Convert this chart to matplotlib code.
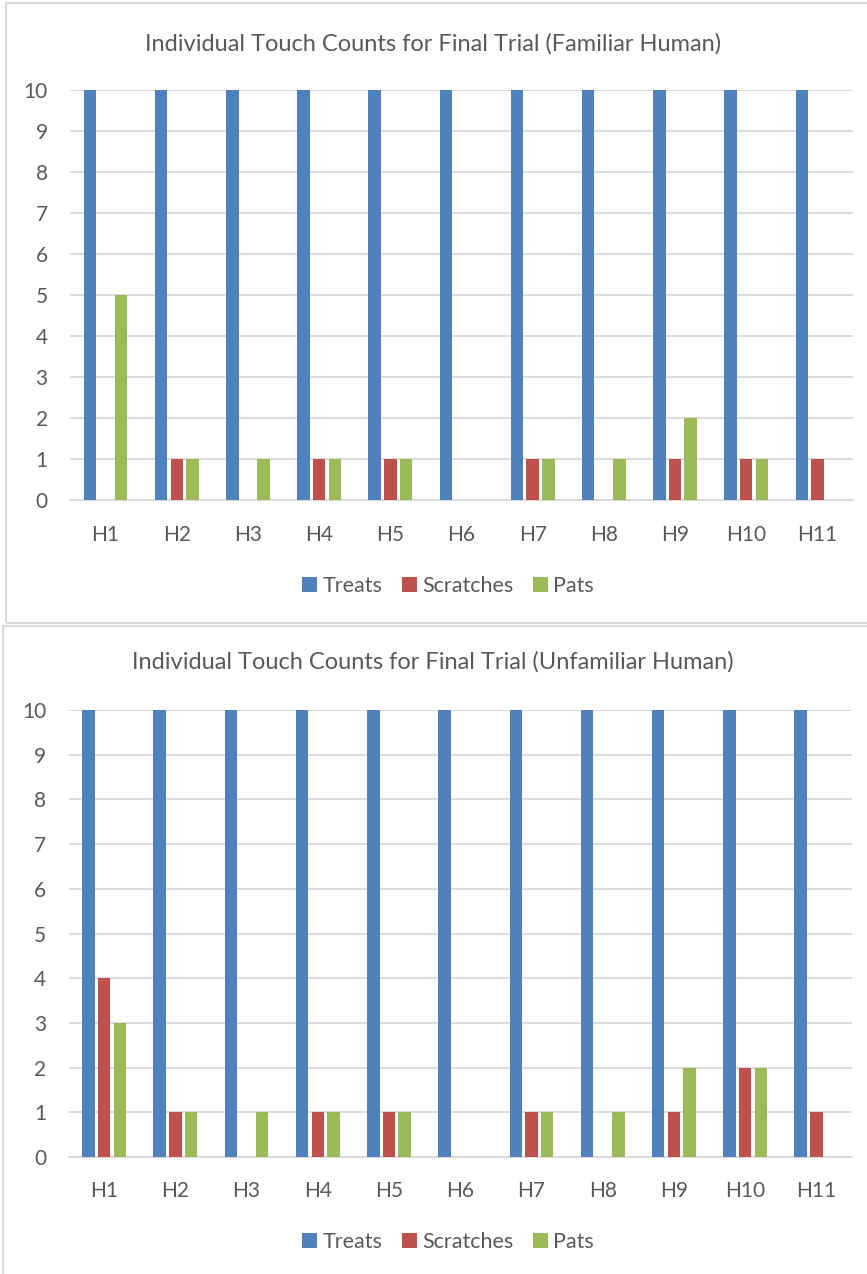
import matplotlib
matplotlib.use("Agg")
import matplotlib.pyplot as plt
import numpy as np
from matplotlib.patches import Rectangle

categories = ["H1", "H2", "H3", "H4", "H5", "H6", "H7", "H8", "H9", "H10", "H11"]
series_names = ["Treats", "Scratches", "Pats"]
fam_treats = [10, 10, 10, 10, 10, 10, 10, 10, 10, 10, 10]
fam_scratches = [0, 1, 0, 1, 1, 0, 1, 0, 1, 1, 1]
fam_pats = [5, 1, 1, 1, 1, 0, 1, 1, 2, 1, 0]
unf_treats = [10, 10, 10, 10, 10, 10, 10, 10, 10, 10, 10]
unf_scratches = [4, 1, 0, 1, 1, 0, 1, 0, 1, 2, 1]
unf_pats = [3, 1, 1, 1, 1, 0, 1, 1, 2, 2, 0]
yticks = list(range(0, 11))
titles = ["Individual Touch Counts for Final Trial (Familiar Human)",
          "Individual Touch Counts for Final Trial (Unfamiliar Human)"]

colors = ["#4F81BD", "#C0504D", "#9BBB59"]
TXT = "#595959"
GRID = "#D9D9D9"
FONT = ["Lato", "DejaVu Sans"]
plt.rcParams["font.family"] = FONT

W, H = 867, 1274
fig = plt.figure(figsize=(W / 100, H / 100), dpi=100)

def fx(px):
    return px / W

def fy(py):
    return 1 - py / H

# borders
fig.patches.append(Rectangle((fx(6), fy(623)), fx(870) - fx(6), fy(3) - fy(623),
                             transform=fig.transFigure, fill=False, edgecolor="#D9D9D9", lw=1.5))
fig.patches.append(Rectangle((fx(3), fy(1276)), fx(870) - fx(3), fy(626) - fy(1276),
                             transform=fig.transFigure, fill=False, edgecolor="#D9D9D9", lw=1.5))

panels = [
    dict(data=[fam_treats, fam_scratches, fam_pats], left=70, right=853, top=90, bottom=500,
         title_y=44, legend_y=586, title=titles[0], xpad=18),
    dict(data=[unf_treats, unf_scratches, unf_pats], left=68.5, right=852, top=710, bottom=1157,
         title_y=662, legend_y=1242, title=titles[1], xpad=17),
]

x = np.arange(len(categories))
bw = 0.175
off = 0.22

for p in panels:
    ax = fig.add_axes([fx(p["left"]), fy(p["bottom"]), fx(p["right"]) - fx(p["left"]),
                       fy(p["top"]) - fy(p["bottom"])])
    handles = []
    for i, (vals, name, c) in enumerate(zip(p["data"], series_names, colors)):
        h = ax.bar(x + (i - 1) * off, vals, width=bw, color=c, label=name, zorder=3)
        handles.append(h)
    ax.set_xlim(-0.5, len(categories) - 0.5)
    ax.set_ylim(0, 10)
    ax.set_yticks(yticks)
    ax.set_xticks(x)
    ax.set_xticklabels(categories)
    ax.grid(axis="y", color=GRID, lw=1.3, zorder=0)
    ax.set_axisbelow(True)
    for s in ["top", "right", "left"]:
        ax.spines[s].set_visible(False)
    ax.spines["bottom"].set_color(GRID)
    ax.spines["bottom"].set_linewidth(1.3)
    ax.tick_params(axis="both", length=0, colors=TXT, labelsize=15)
    ax.tick_params(axis="x", pad=p["xpad"])
    ax.tick_params(axis="y", pad=16)
    fig.text(fx(433), fy(p["title_y"]), p["title"], ha="center", va="center",
             fontsize=17, color=TXT)
    fig.legend(handles=handles, labels=series_names, loc="center",
               bbox_to_anchor=(fx(448), fy(p["legend_y"])), ncol=3, frameon=False,
               fontsize=15.5, labelcolor=TXT, handlelength=0.7, handleheight=0.7,
               handletextpad=0.25, columnspacing=0.9)

fig.savefig("out.png", dpi=100)
